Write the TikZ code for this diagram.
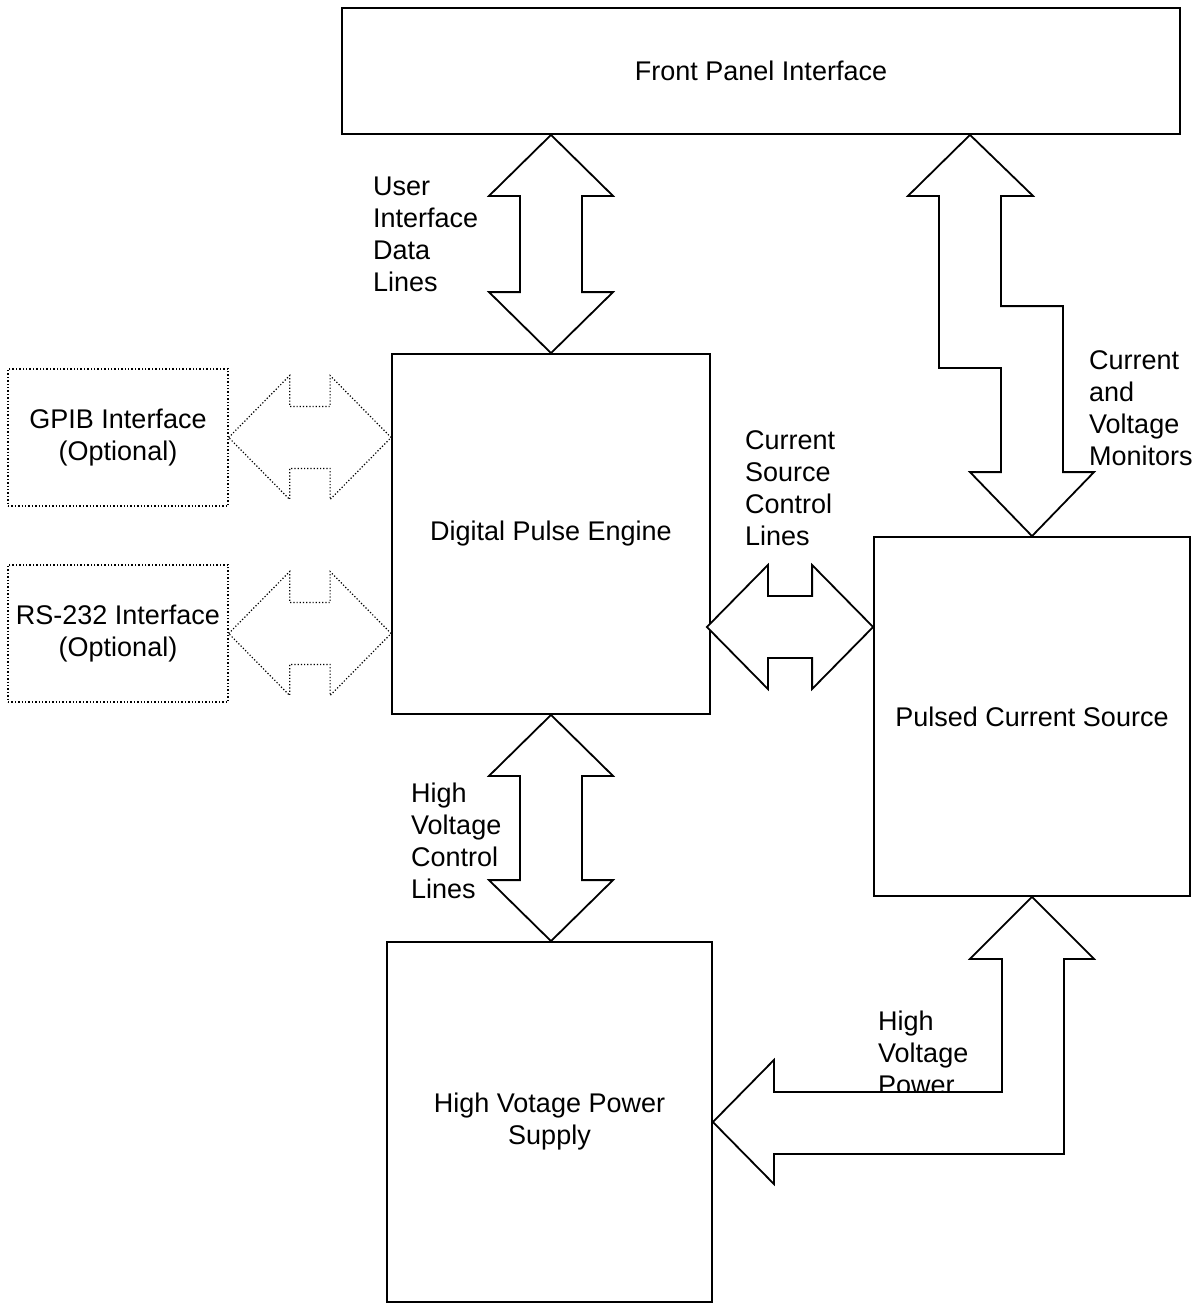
\documentclass[tikz,border=0pt]{standalone}
\usepackage{fontspec}
\setmainfont{Liberation Sans}
\usetikzlibrary{calc}

% vertical block arrow: top tip, bottom tip
\newcommand{\vfat}[3][fat]{%
  \draw[#1] (#2) -- ($(#2)+(62,61)$) -- ($(#2)+(31,61)$) -- ($(#3)+(31,-61)$) -- ($(#3)+(62,-61)$) -- (#3)
    -- ($(#3)+(-62,-61)$) -- ($(#3)+(-31,-61)$) -- ($(#2)+(-31,61)$) -- ($(#2)+(-62,61)$) -- cycle;}
% horizontal block arrow: left tip, right tip
\newcommand{\hfat}[3][fat]{%
  \draw[#1] (#2) -- ($(#2)+(61,-62)$) -- ($(#2)+(61,-31)$) -- ($(#3)+(-61,-31)$) -- ($(#3)+(-61,-62)$) -- (#3)
    -- ($(#3)+(-61,62)$) -- ($(#3)+(-61,31)$) -- ($(#2)+(61,31)$) -- ($(#2)+(61,62)$) -- cycle;}

\begin{document}
\begin{tikzpicture}[x=1pt,y=-1pt,
    block/.style={rectangle,draw,line width=1.8pt,align=center,font=\fontsize{27}{32}\selectfont},
    optblock/.style={block,line width=1.4pt,dotted},
    fat/.style={draw,line width=1.8pt,fill=white},
    optfat/.style={fat,line width=1.2pt,dotted},
    lbl/.style={anchor=north west,inner sep=0pt,align=left,font=\fontsize{27}{32}\selectfont}]
  \useasboundingbox (0,0) rectangle (1202,1304);

  \node[block,minimum width=838pt,minimum height=126pt] (fpi)  at (761,71)     {Front Panel Interface};
  \node[block,minimum width=318pt,minimum height=360pt] (dpe)  at (551,534)    {Digital Pulse Engine};
  \node[block,minimum width=316pt,minimum height=359pt] (pcs)  at (1032,716.5) {Pulsed Current Source};
  \node[block,minimum width=325pt,minimum height=360pt] (hvps) at (549.5,1122) {High Votage Power\\Supply};
  \node[optblock,minimum width=220pt,minimum height=137pt] (gpib) at (118,437.5) {GPIB Interface\\(Optional)};
  \node[optblock,minimum width=220pt,minimum height=137pt] (rs)   at (118,633.5) {RS-232 Interface\\(Optional)};

  % monitor arrow with a jog
  \coordinate (mtop) at ($(fpi.south -| pcs.north)+(-62,0)$);
  \coordinate (mbot) at (pcs.north);
  \draw[fat] (mtop) -- ($(mtop)+(63,61)$) -- ($(mtop)+(31,61)$) |- ($(mbot)+(31,-230)$)
    -- ($(mbot)+(31,-64)$) -- ($(mbot)+(62,-64)$) -- (mbot) -- ($(mbot)+(-62,-64)$) -- ($(mbot)+(-31,-64)$)
    |- ($(mtop)+(-31,233)$) -- ($(mtop)+(-31,61)$) -- ($(mtop)+(-62,61)$) -- cycle;

  % labels
  \node[lbl] (uilbl)  at (373,177)  {User\\Interface\\Data\\Lines};
  \node[lbl] (cslbl)  at (745,430)  {Current\\Source\\Control\\Lines};
  \node[lbl] (monlbl) at (1089,350) {Current\\and\\Voltage\\Monitors};
  \node[lbl] (hvclbl) at (411,783)  {High\\Voltage\\Control\\Lines};
  \node[lbl] (hvplbl) at (878,1011) {High\\Voltage\\Power};

  % block arrows
  \coordinate (uitop) at (dpe.north |- fpi.south);
  \vfat{uitop}{dpe.north}
  \coordinate (hvbot) at (dpe.south |- hvps.north);
  \vfat{dpe.south}{hvbot}
  \coordinate (gpibr) at (gpib.east -| dpe.west);
  \hfat[optfat]{gpib.east}{gpibr}
  \coordinate (rsr) at (rs.east -| dpe.west);
  \hfat[optfat]{rs.east}{rsr}
  \coordinate (csl) at ($(dpe.east)+(-4,93)$);
  \coordinate (csr) at (csl -| pcs.west);
  \hfat{csl}{csr}

  % power arrow, bent
  \coordinate (ptop) at (pcs.south);
  \coordinate (pleft) at (hvps.east);
  \draw[fat] (ptop) -- ($(ptop)+(62,62)$) -- ($(ptop)+(32,62)$) |- ($(pleft)+(61,32)$) -- ($(pleft)+(61,62)$)
    -- (pleft) -- ($(pleft)+(61,-62)$) -- ($(pleft)+(61,-30)$) -| ($(ptop)+(-30,62)$) -- ($(ptop)+(-62,62)$) -- cycle;
\end{tikzpicture}
\end{document}
